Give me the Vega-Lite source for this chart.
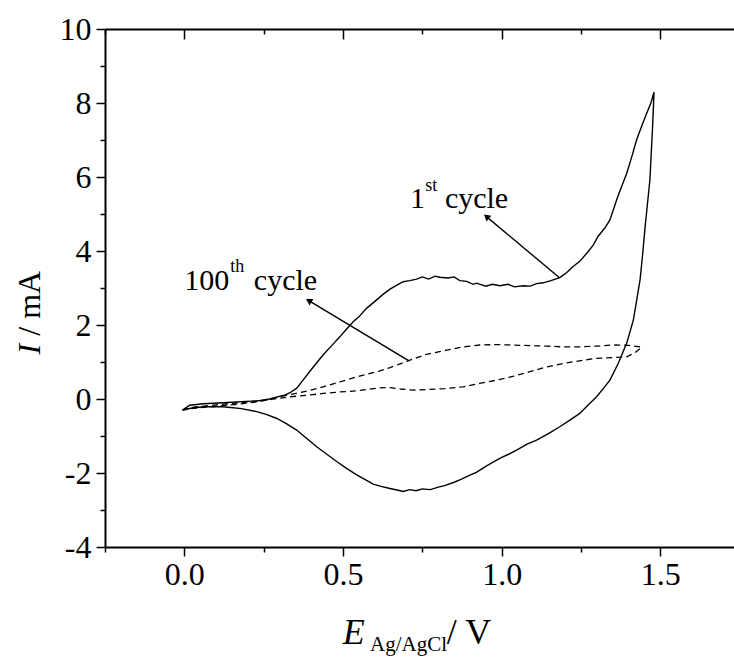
{
  "$schema": "https://vega.github.io/schema/vega-lite/v6.json",
  "width": 629,
  "height": 518,
  "autosize": {"type": "none"},
  "padding": {"left": 105, "top": 29, "right": 0, "bottom": 112},
  "background": "white",
  "config": {
    "view": {"stroke": null},
    "font": "Liberation Serif",
    "axis": {
      "domainColor": "black", "domainWidth": 2, "tickColor": "black", "tickWidth": 1.5,
      "labelColor": "black", "labelFont": "Liberation Serif", "labelFontSize": 32,
      "grid": false, "labelOverlap": false, "labelFlush": false
    }
  },
  "datasets": {
    "cv": [
      {"c":"1st","i":0,"E":-0.006,"I":-0.30},{"c":"1st","i":1,"E":0.017,"I":-0.17},{"c":"1st","i":2,"E":0.06,"I":-0.13},{"c":"1st","i":3,"E":0.122,"I":-0.10},{"c":"1st","i":4,"E":0.18,"I":-0.07},{"c":"1st","i":5,"E":0.228,"I":-0.05},{"c":"1st","i":6,"E":0.26,"I":-0.02},{"c":"1st","i":7,"E":0.29,"I":0.05},{"c":"1st","i":8,"E":0.315,"I":0.10},{"c":"1st","i":9,"E":0.333,"I":0.17},{"c":"1st","i":10,"E":0.355,"I":0.30},{"c":"1st","i":11,"E":0.374,"I":0.51},{"c":"1st","i":12,"E":0.405,"I":0.85},{"c":"1st","i":13,"E":0.437,"I":1.19},{"c":"1st","i":14,"E":0.465,"I":1.45},{"c":"1st","i":15,"E":0.49,"I":1.68},{"c":"1st","i":16,"E":0.51,"I":1.88},{"c":"1st","i":17,"E":0.532,"I":2.09},{"c":"1st","i":18,"E":0.55,"I":2.22},{"c":"1st","i":19,"E":0.574,"I":2.45},{"c":"1st","i":20,"E":0.606,"I":2.68},{"c":"1st","i":21,"E":0.625,"I":2.82},{"c":"1st","i":22,"E":0.648,"I":2.97},{"c":"1st","i":23,"E":0.67,"I":3.08},{"c":"1st","i":24,"E":0.69,"I":3.17},{"c":"1st","i":25,"E":0.71,"I":3.20},{"c":"1st","i":26,"E":0.732,"I":3.24},{"c":"1st","i":27,"E":0.75,"I":3.30},{"c":"1st","i":28,"E":0.77,"I":3.24},{"c":"1st","i":29,"E":0.79,"I":3.32},{"c":"1st","i":30,"E":0.805,"I":3.29},{"c":"1st","i":31,"E":0.83,"I":3.27},{"c":"1st","i":32,"E":0.85,"I":3.30},{"c":"1st","i":33,"E":0.868,"I":3.20},{"c":"1st","i":34,"E":0.89,"I":3.18},{"c":"1st","i":35,"E":0.91,"I":3.10},{"c":"1st","i":36,"E":0.921,"I":3.13},{"c":"1st","i":37,"E":0.95,"I":3.05},{"c":"1st","i":38,"E":0.97,"I":3.10},{"c":"1st","i":39,"E":0.994,"I":3.06},{"c":"1st","i":40,"E":1.02,"I":3.10},{"c":"1st","i":41,"E":1.04,"I":3.03},{"c":"1st","i":42,"E":1.068,"I":3.06},{"c":"1st","i":43,"E":1.09,"I":3.05},{"c":"1st","i":44,"E":1.11,"I":3.12},{"c":"1st","i":45,"E":1.131,"I":3.14},{"c":"1st","i":46,"E":1.155,"I":3.20},{"c":"1st","i":47,"E":1.183,"I":3.28},{"c":"1st","i":48,"E":1.205,"I":3.42},{"c":"1st","i":49,"E":1.225,"I":3.58},{"c":"1st","i":50,"E":1.246,"I":3.72},{"c":"1st","i":51,"E":1.268,"I":3.94},{"c":"1st","i":52,"E":1.288,"I":4.15},{"c":"1st","i":53,"E":1.304,"I":4.40},{"c":"1st","i":54,"E":1.325,"I":4.62},{"c":"1st","i":55,"E":1.341,"I":4.84},{"c":"1st","i":56,"E":1.365,"I":5.45},{"c":"1st","i":57,"E":1.394,"I":6.10},{"c":"1st","i":58,"E":1.41,"I":6.55},{"c":"1st","i":59,"E":1.425,"I":7.00},{"c":"1st","i":60,"E":1.44,"I":7.35},{"c":"1st","i":61,"E":1.457,"I":7.72},{"c":"1st","i":62,"E":1.47,"I":8.00},{"c":"1st","i":63,"E":1.48,"I":8.29},
      {"c":"1st","i":64,"E":1.475,"I":7.27},{"c":"1st","i":65,"E":1.471,"I":6.60},{"c":"1st","i":66,"E":1.467,"I":5.92},{"c":"1st","i":67,"E":1.459,"I":5.25},{"c":"1st","i":68,"E":1.451,"I":4.57},{"c":"1st","i":69,"E":1.444,"I":3.90},{"c":"1st","i":70,"E":1.436,"I":3.22},{"c":"1st","i":71,"E":1.425,"I":2.65},{"c":"1st","i":72,"E":1.415,"I":2.14},{"c":"1st","i":73,"E":1.394,"I":1.51},{"c":"1st","i":74,"E":1.367,"I":0.96},{"c":"1st","i":75,"E":1.341,"I":0.51},{"c":"1st","i":76,"E":1.32,"I":0.28},{"c":"1st","i":77,"E":1.299,"I":0.06},{"c":"1st","i":78,"E":1.27,"I":-0.18},{"c":"1st","i":79,"E":1.246,"I":-0.39},{"c":"1st","i":80,"E":1.215,"I":-0.57},{"c":"1st","i":81,"E":1.183,"I":-0.75},{"c":"1st","i":82,"E":1.15,"I":-0.92},{"c":"1st","i":83,"E":1.11,"I":-1.11},{"c":"1st","i":84,"E":1.08,"I":-1.22},{"c":"1st","i":85,"E":1.047,"I":-1.38},{"c":"1st","i":86,"E":1.02,"I":-1.50},{"c":"1st","i":87,"E":1.0,"I":-1.58},{"c":"1st","i":88,"E":0.97,"I":-1.72},{"c":"1st","i":89,"E":0.95,"I":-1.82},{"c":"1st","i":90,"E":0.92,"I":-1.98},{"c":"1st","i":91,"E":0.9,"I":-2.06},{"c":"1st","i":92,"E":0.87,"I":-2.18},{"c":"1st","i":93,"E":0.85,"I":-2.25},{"c":"1st","i":94,"E":0.82,"I":-2.34},{"c":"1st","i":95,"E":0.8,"I":-2.38},{"c":"1st","i":96,"E":0.775,"I":-2.45},{"c":"1st","i":97,"E":0.75,"I":-2.43},{"c":"1st","i":98,"E":0.73,"I":-2.48},{"c":"1st","i":99,"E":0.71,"I":-2.45},{"c":"1st","i":100,"E":0.69,"I":-2.50},{"c":"1st","i":101,"E":0.67,"I":-2.46},{"c":"1st","i":102,"E":0.648,"I":-2.42},{"c":"1st","i":103,"E":0.62,"I":-2.36},{"c":"1st","i":104,"E":0.595,"I":-2.30},{"c":"1st","i":105,"E":0.57,"I":-2.18},{"c":"1st","i":106,"E":0.543,"I":-2.05},{"c":"1st","i":107,"E":0.51,"I":-1.87},{"c":"1st","i":108,"E":0.48,"I":-1.69},{"c":"1st","i":109,"E":0.45,"I":-1.50},{"c":"1st","i":110,"E":0.417,"I":-1.29},{"c":"1st","i":111,"E":0.385,"I":-1.06},{"c":"1st","i":112,"E":0.354,"I":-0.84},{"c":"1st","i":113,"E":0.32,"I":-0.66},{"c":"1st","i":114,"E":0.29,"I":-0.52},{"c":"1st","i":115,"E":0.26,"I":-0.42},{"c":"1st","i":116,"E":0.228,"I":-0.34},{"c":"1st","i":117,"E":0.18,"I":-0.26},{"c":"1st","i":118,"E":0.122,"I":-0.21},{"c":"1st","i":119,"E":0.06,"I":-0.21},{"c":"1st","i":120,"E":0.02,"I":-0.25},{"c":"1st","i":121,"E":-0.006,"I":-0.30},
      {"c":"100th","i":0,"E":-0.006,"I":-0.30},{"c":"100th","i":1,"E":0.03,"I":-0.22},{"c":"100th","i":2,"E":0.1,"I":-0.16},{"c":"100th","i":3,"E":0.17,"I":-0.10},{"c":"100th","i":4,"E":0.228,"I":-0.06},{"c":"100th","i":5,"E":0.28,"I":0.02},{"c":"100th","i":6,"E":0.333,"I":0.12},{"c":"100th","i":7,"E":0.39,"I":0.22},{"c":"100th","i":8,"E":0.437,"I":0.33},{"c":"100th","i":9,"E":0.49,"I":0.46},{"c":"100th","i":10,"E":0.543,"I":0.60},{"c":"100th","i":11,"E":0.58,"I":0.68},{"c":"100th","i":12,"E":0.616,"I":0.76},{"c":"100th","i":13,"E":0.648,"I":0.85},{"c":"100th","i":14,"E":0.68,"I":0.95},{"c":"100th","i":15,"E":0.711,"I":1.05},{"c":"100th","i":16,"E":0.76,"I":1.20},{"c":"100th","i":17,"E":0.826,"I":1.32},{"c":"100th","i":18,"E":0.88,"I":1.41},{"c":"100th","i":19,"E":0.931,"I":1.46},{"c":"100th","i":20,"E":0.98,"I":1.47},{"c":"100th","i":21,"E":1.036,"I":1.46},{"c":"100th","i":22,"E":1.09,"I":1.44},{"c":"100th","i":23,"E":1.141,"I":1.43},{"c":"100th","i":24,"E":1.19,"I":1.41},{"c":"100th","i":25,"E":1.246,"I":1.41},{"c":"100th","i":26,"E":1.3,"I":1.43},{"c":"100th","i":27,"E":1.351,"I":1.46},{"c":"100th","i":28,"E":1.4,"I":1.45},{"c":"100th","i":29,"E":1.441,"I":1.40},
      {"c":"100th","i":30,"E":1.42,"I":1.25},{"c":"100th","i":31,"E":1.394,"I":1.14},{"c":"100th","i":32,"E":1.35,"I":1.12},{"c":"100th","i":33,"E":1.299,"I":1.10},{"c":"100th","i":34,"E":1.25,"I":1.04},{"c":"100th","i":35,"E":1.194,"I":0.96},{"c":"100th","i":36,"E":1.14,"I":0.86},{"c":"100th","i":37,"E":1.089,"I":0.74},{"c":"100th","i":38,"E":1.04,"I":0.62},{"c":"100th","i":39,"E":0.984,"I":0.51},{"c":"100th","i":40,"E":0.93,"I":0.42},{"c":"100th","i":41,"E":0.879,"I":0.33},{"c":"100th","i":42,"E":0.82,"I":0.28},{"c":"100th","i":43,"E":0.774,"I":0.26},{"c":"100th","i":44,"E":0.721,"I":0.24},{"c":"100th","i":45,"E":0.68,"I":0.27},{"c":"100th","i":46,"E":0.648,"I":0.31},{"c":"100th","i":47,"E":0.616,"I":0.30},{"c":"100th","i":48,"E":0.543,"I":0.22},{"c":"100th","i":49,"E":0.49,"I":0.19},{"c":"100th","i":50,"E":0.437,"I":0.15},{"c":"100th","i":51,"E":0.385,"I":0.10},{"c":"100th","i":52,"E":0.333,"I":0.06},{"c":"100th","i":53,"E":0.28,"I":0.0},{"c":"100th","i":54,"E":0.228,"I":-0.08},{"c":"100th","i":55,"E":0.17,"I":-0.14},{"c":"100th","i":56,"E":0.1,"I":-0.20},{"c":"100th","i":57,"E":0.03,"I":-0.25},{"c":"100th","i":58,"E":-0.006,"I":-0.30}
    ],
    "arrows": [
      {"a":"first","E0":1.183,"I0":3.27,"E1":0.952,"I1":4.93},
      {"a":"hundredth","E0":0.708,"I0":1.03,"E1":0.392,"I1":2.66}
    ],
    "labels": [
      {"g":"ann","t":"1","E":0.711,"I":5.154},
      {"g":"ann","t":"cycle","E":0.821,"I":5.154},
      {"g":"ann","t":"100","E":0.0,"I":2.946},
      {"g":"ann","t":"cycle","E":0.219,"I":2.946},
      {"g":"sup","t":"st","E":0.759,"I":5.62},
      {"g":"sup","t":"th","E":0.1445,"I":3.44},
      {"g":"xit","t":"E","E":0.4995,"I":-6.62},
      {"g":"xsub","t":"Ag/AgCl","E":0.585,"I":-6.8},
      {"g":"xt","t":"/ V","E":0.827,"I":-6.62},
      {"g":"yit","t":"I","E":-0.455,"I":1.2},
      {"g":"yt","t":"/ mA","E":-0.455,"I":1.71}
    ]
  },
  "layer": [
    {
      "data": {"name": "cv"},
      "transform": [{"filter": "datum.c === '1st'"}],
      "mark": {"type": "line", "color": "black", "strokeWidth": 1.4},
      "encoding": {
        "x": {"field": "E", "type": "quantitative", "scale": {"domain": [-0.25, 1.732], "nice": false, "zero": false},
          "axis": {"orient": "bottom", "title": null, "values": [-0.25,0,0.25,0.5,0.75,1,1.25,1.5], "format": ".1f",
            "labelExpr": "abs(round(datum.value*4)) % 2 === 0 ? datum.label : ''",
            "tickSize": {"condition": {"test": "abs(round(datum.value*4)) % 2 === 0", "value": 9}, "value": 5},
            "labelPadding": 3}},
        "y": {"field": "I", "type": "quantitative", "scale": {"domain": [-4, 10], "nice": false, "zero": false},
          "axis": {"orient": "left", "title": null, "values": [-4,-3,-2,-1,0,1,2,3,4,5,6,7,8,9,10],
            "labelExpr": "datum.value % 2 === 0 ? '' + datum.value : ''",
            "tickSize": {"condition": {"test": "datum.value % 2 === 0", "value": 9}, "value": 5},
            "labelPadding": 5}},
        "order": {"field": "i", "type": "quantitative"}
      }
    },
    {
      "data": {"name": "cv"},
      "transform": [{"filter": "datum.c === '100th'"}],
      "mark": {"type": "line", "color": "black", "strokeWidth": 1.3, "strokeDash": [6, 4]},
      "encoding": {
        "x": {"field": "E", "type": "quantitative",
          "axis": {"orient": "top", "title": null, "values": [-0.25,0,0.25,0.5,0.75,1,1.25,1.5], "labels": false,
            "tickSize": {"condition": {"test": "abs(round(datum.value*4)) % 2 === 0", "value": -10}, "value": -5}}},
        "y": {"field": "I", "type": "quantitative", "axis": null},
        "order": {"field": "i", "type": "quantitative"}
      }
    },
    {
      "data": {"name": "arrows"},
      "mark": {"type": "rule", "color": "black", "strokeWidth": 1.4},
      "encoding": {
        "x": {"field": "E0", "type": "quantitative", "axis": null},
        "y": {"field": "I0", "type": "quantitative", "axis": null},
        "x2": {"field": "E1"},
        "y2": {"field": "I1"}
      }
    },
    {
      "data": {"name": "arrows"},
      "transform": [{"filter": "datum.a === 'first'"}],
      "mark": {"type": "point", "shape": "triangle-up", "filled": true, "color": "black", "opacity": 1, "size": 55, "angle": 310},
      "encoding": {
        "x": {"field": "E1", "type": "quantitative", "axis": null},
        "y": {"field": "I1", "type": "quantitative", "axis": null}
      }
    },
    {
      "data": {"name": "arrows"},
      "transform": [{"filter": "datum.a === 'hundredth'"}],
      "mark": {"type": "point", "shape": "triangle-up", "filled": true, "color": "black", "opacity": 1, "size": 55, "angle": 301},
      "encoding": {
        "x": {"field": "E1", "type": "quantitative", "axis": null},
        "y": {"field": "I1", "type": "quantitative", "axis": null}
      }
    },
    {
      "data": {"name": "labels"},
      "transform": [{"filter": "datum.g === 'ann'"}],
      "mark": {"type": "text", "align": "left", "baseline": "alphabetic", "font": "Liberation Serif", "fontSize": 30, "color": "black"},
      "encoding": {
        "x": {"field": "E", "type": "quantitative", "axis": null},
        "y": {"field": "I", "type": "quantitative", "axis": null},
        "text": {"field": "t"}
      }
    },
    {
      "data": {"name": "labels"},
      "transform": [{"filter": "datum.g === 'sup'"}],
      "mark": {"type": "text", "align": "left", "baseline": "alphabetic", "font": "Liberation Serif", "fontSize": 18, "color": "black"},
      "encoding": {
        "x": {"field": "E", "type": "quantitative", "axis": null},
        "y": {"field": "I", "type": "quantitative", "axis": null},
        "text": {"field": "t"}
      }
    },
    {
      "data": {"name": "labels"},
      "transform": [{"filter": "datum.g === 'xit'"}],
      "mark": {"type": "text", "align": "left", "baseline": "alphabetic", "font": "Liberation Serif", "fontStyle": "italic", "fontSize": 36, "color": "black"},
      "encoding": {
        "x": {"field": "E", "type": "quantitative", "axis": null},
        "y": {"field": "I", "type": "quantitative", "axis": null},
        "text": {"field": "t"}
      }
    },
    {
      "data": {"name": "labels"},
      "transform": [{"filter": "datum.g === 'xsub'"}],
      "mark": {"type": "text", "align": "left", "baseline": "alphabetic", "font": "Liberation Serif", "fontSize": 21, "color": "black"},
      "encoding": {
        "x": {"field": "E", "type": "quantitative", "axis": null},
        "y": {"field": "I", "type": "quantitative", "axis": null},
        "text": {"field": "t"}
      }
    },
    {
      "data": {"name": "labels"},
      "transform": [{"filter": "datum.g === 'xt'"}],
      "mark": {"type": "text", "align": "left", "baseline": "alphabetic", "font": "Liberation Serif", "fontSize": 36, "color": "black"},
      "encoding": {
        "x": {"field": "E", "type": "quantitative", "axis": null},
        "y": {"field": "I", "type": "quantitative", "axis": null},
        "text": {"field": "t"}
      }
    },
    {
      "data": {"name": "labels"},
      "transform": [{"filter": "datum.g === 'yit'"}],
      "mark": {"type": "text", "align": "left", "baseline": "alphabetic", "angle": 270, "font": "Liberation Serif", "fontStyle": "italic", "fontSize": 32, "color": "black"},
      "encoding": {
        "x": {"field": "E", "type": "quantitative", "axis": null},
        "y": {"field": "I", "type": "quantitative", "axis": null},
        "text": {"field": "t"}
      }
    },
    {
      "data": {"name": "labels"},
      "transform": [{"filter": "datum.g === 'yt'"}],
      "mark": {"type": "text", "align": "left", "baseline": "alphabetic", "angle": 270, "font": "Liberation Serif", "fontSize": 32, "color": "black"},
      "encoding": {
        "x": {"field": "E", "type": "quantitative", "axis": null},
        "y": {"field": "I", "type": "quantitative", "axis": null},
        "text": {"field": "t"}
      }
    }
  ],
  "resolve": {"axis": {"x": "independent", "y": "independent"}}
}
